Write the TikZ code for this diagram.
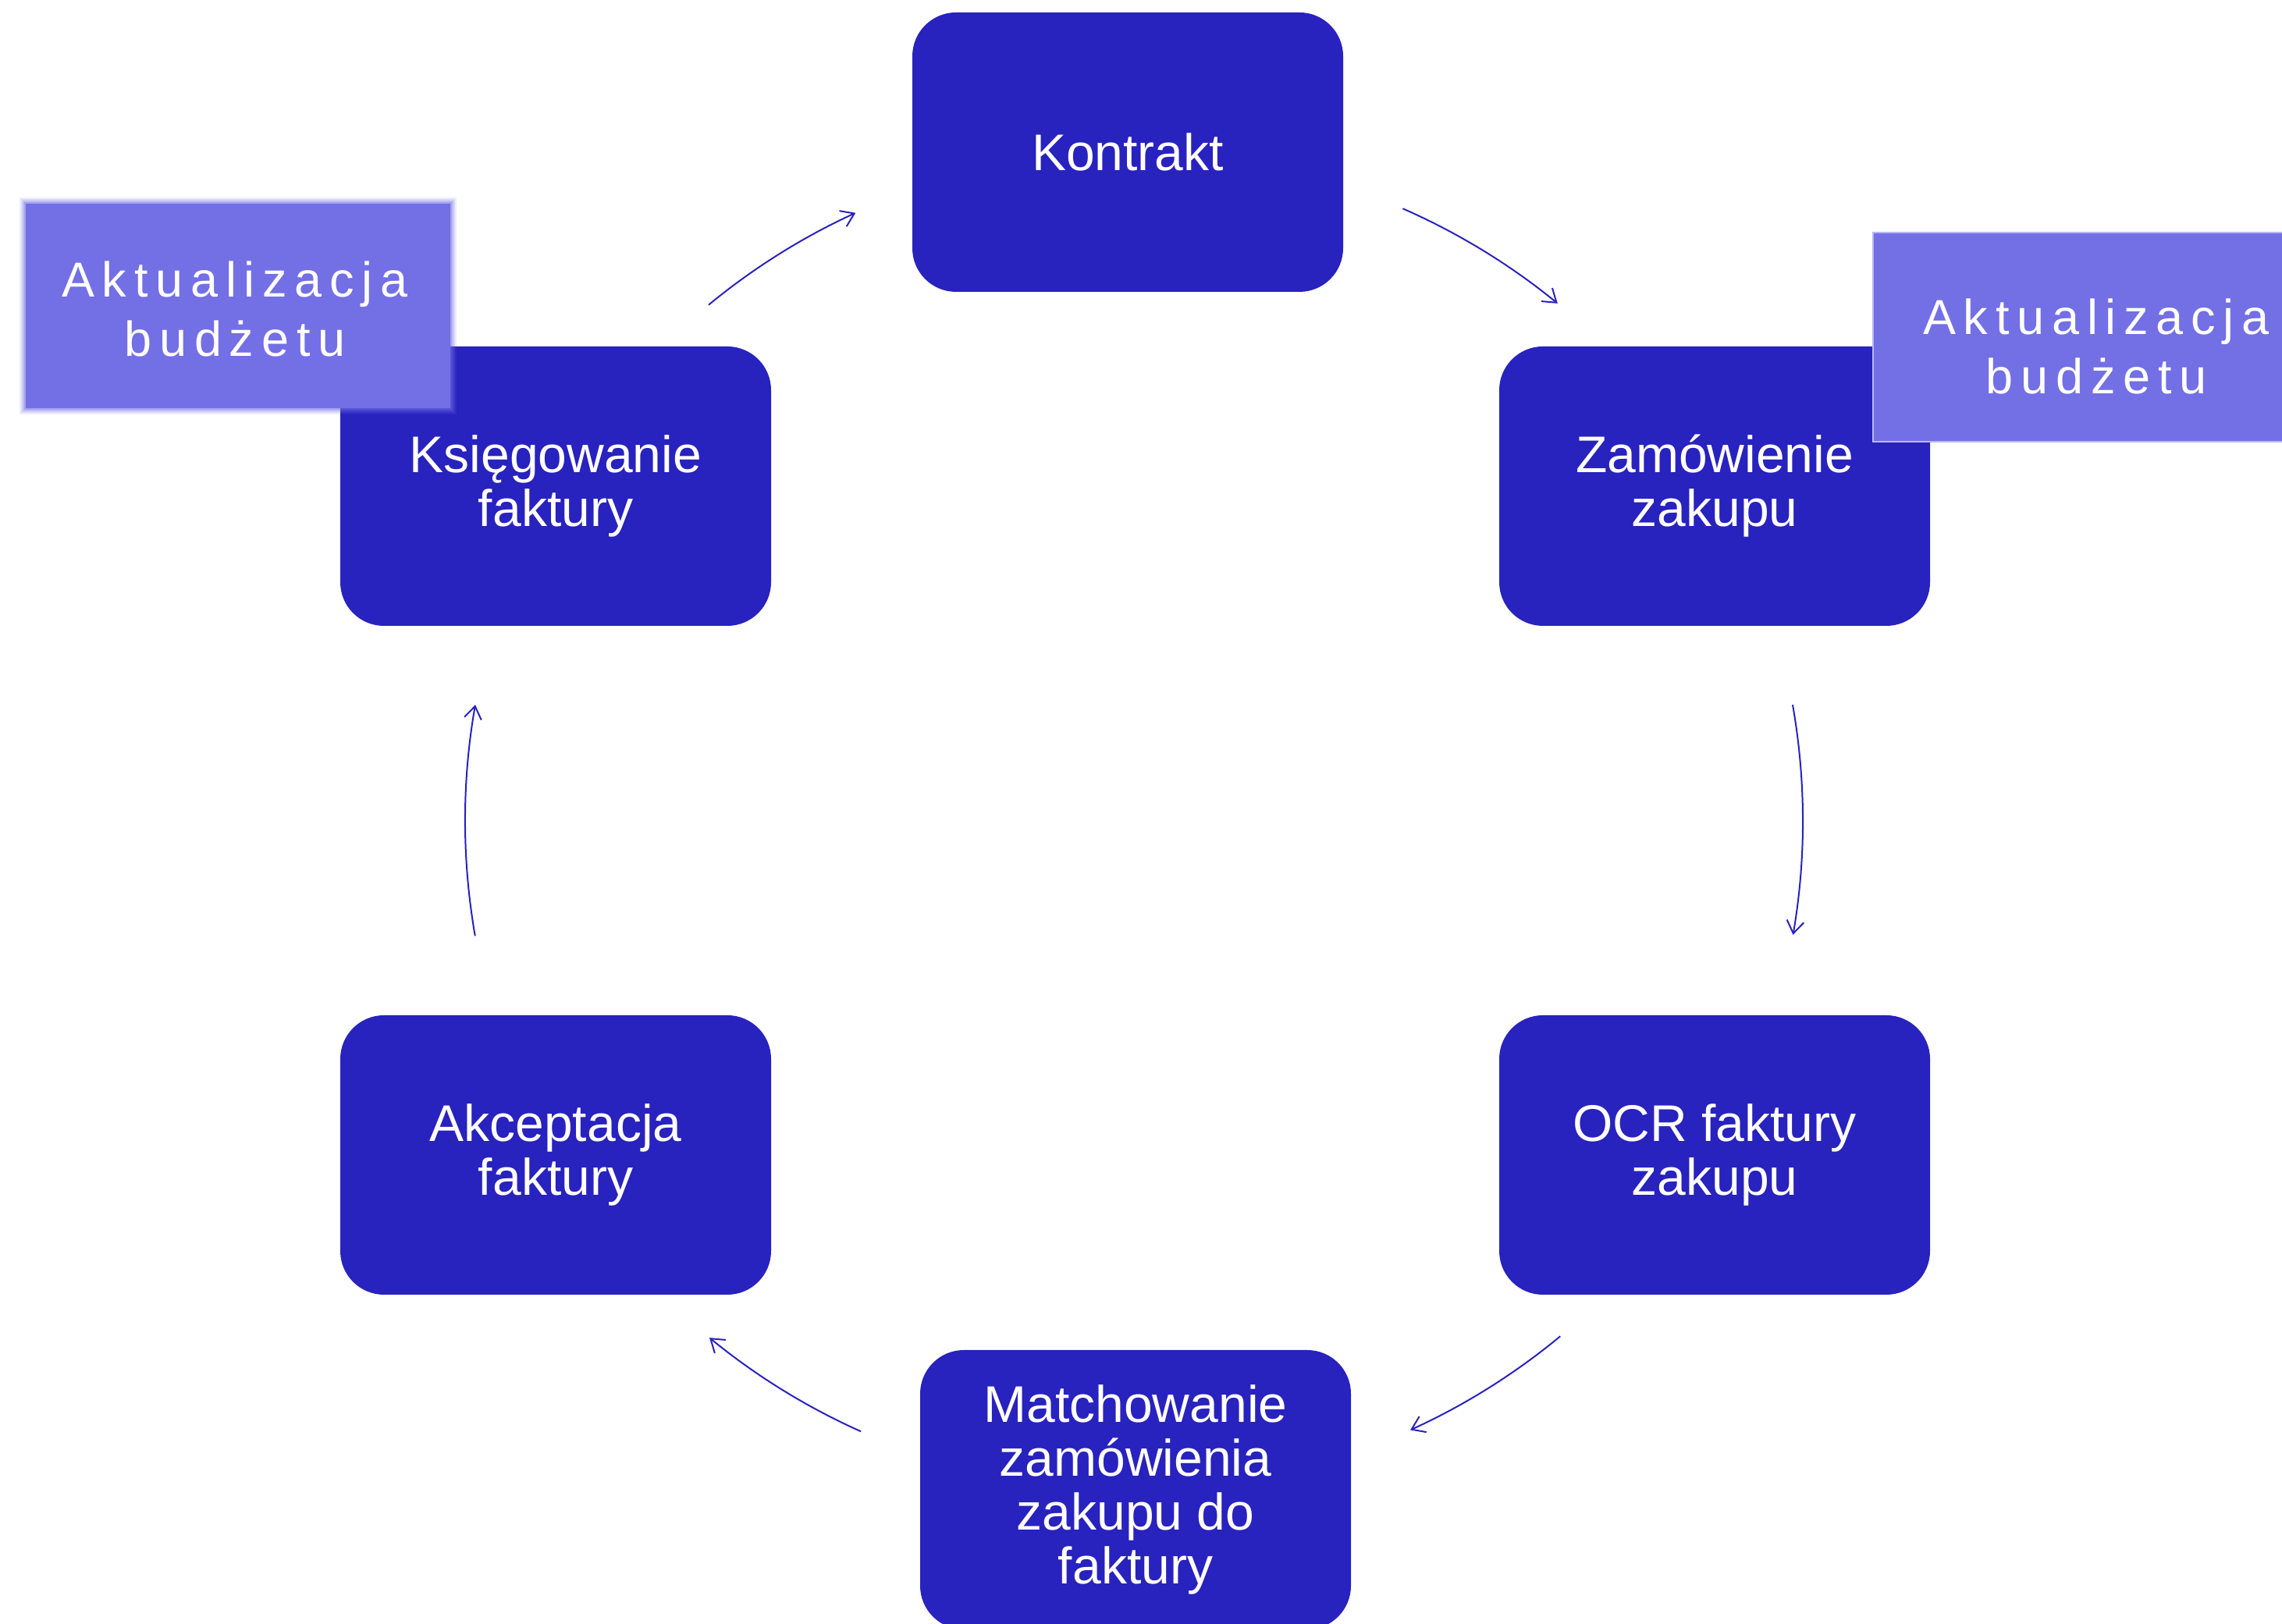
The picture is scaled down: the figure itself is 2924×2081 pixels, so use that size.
\documentclass[tikz,border=0pt]{standalone}
\usepackage{fontspec}
\setmainfont{Liberation Sans}
\newfontfamily\spacedfont[LetterSpace=15.5]{Liberation Sans}
\usetikzlibrary{arrows.meta,calc}
\definecolor{boxblue}{HTML}{2822BE}
\definecolor{labblue}{HTML}{736FE5}
\definecolor{labedge}{HTML}{B9B7F2}
\begin{document}
\begin{tikzpicture}[x=0.5pt,y=0.5pt,
  stepbox/.style={fill=boxblue, rounded corners=28pt, minimum width=276pt, minimum height=179pt,
    text=white, align=center, font=\fontsize{33}{34.5}\selectfont, inner sep=0pt},
  labbox/.style={fill=labblue, minimum width=272pt, inner sep=0pt},
  labtext/.style={text=white, align=center, font=\spacedfont\fontsize{31.5}{38}\selectfont, inner sep=0pt},
  arr/.style={draw=boxblue, line width=1pt, -{Straight Barb[length=8pt,width=11pt]}}]
\useasboundingbox (0,0) rectangle (2924,2081);

% process boxes
\node[stepbox] (kon) at (1445,1886) {Kontrakt};
\node[stepbox] (zam) at (2197,1458) {Zamówienie\\zakupu};
\node[stepbox] (ocr) at (2197,601) {OCR faktury\\zakupu};
\node[stepbox] (mat) at (1455,172) {Matchowanie\\zamówienia\\zakupu do\\faktury};
\node[stepbox] (akc) at (712,601) {Akceptacja\\faktury};
\node[stepbox] (ksi) at (712,1458) {Księgowanie\\faktury};

% cycle arrows (arcs of one circle)
\coordinate (C) at (1453,1029);
\coordinate (a1) at ($(C)+(129.5:428.5pt)$);
\coordinate (a2) at ($(C)+(66.3:428.5pt)$);
\coordinate (a3) at ($(C)+(10.0:428.5pt)$);
\coordinate (a4) at ($(C)+(-50.4:428.5pt)$);
\coordinate (a5) at ($(C)+(-114.1:428.5pt)$);
\coordinate (a6) at ($(C)+(189.9:428.5pt)$);
\draw[arr] (a1) arc[start angle=129.5, end angle=114.6, radius=428.5pt];
\draw[arr] (a2) arc[start angle=66.3, end angle=50.7, radius=428.5pt];
\draw[arr] (a3) arc[start angle=10.0, end angle=-9.8, radius=428.5pt];
\draw[arr] (a4) arc[start angle=-50.4, end angle=-65.6, radius=428.5pt];
\draw[arr] (a5) arc[start angle=-114.1, end angle=-129.4, radius=428.5pt];
\draw[arr] (a6) arc[start angle=189.9, end angle=170.0, radius=428.5pt];

% left label with soft (blurred) edge
\foreach \e/\o in {8/0.12,6/0.18,4/0.25,2/0.35}
  \fill[labblue, opacity=\o] ({305-272-\e},{1689-131-\e}) rectangle ({305+272+\e},{1689+131+\e});
\node[labbox, minimum height=131pt] (lab1) at (305,1689) {};
\node[labtext] (lab1t) at ($(lab1.center)+(-4,-4)$) {Aktualizacja\\budżetu};

% right label
\node[labbox, minimum height=134pt, draw=labedge, line width=1pt, minimum width=275pt] (lab2) at (2675,1649) {};
\node[labtext] (lab2t) at ($(lab2.center)+(11,-12)$) {Aktualizacja\\budżetu};
\end{tikzpicture}
\end{document}
